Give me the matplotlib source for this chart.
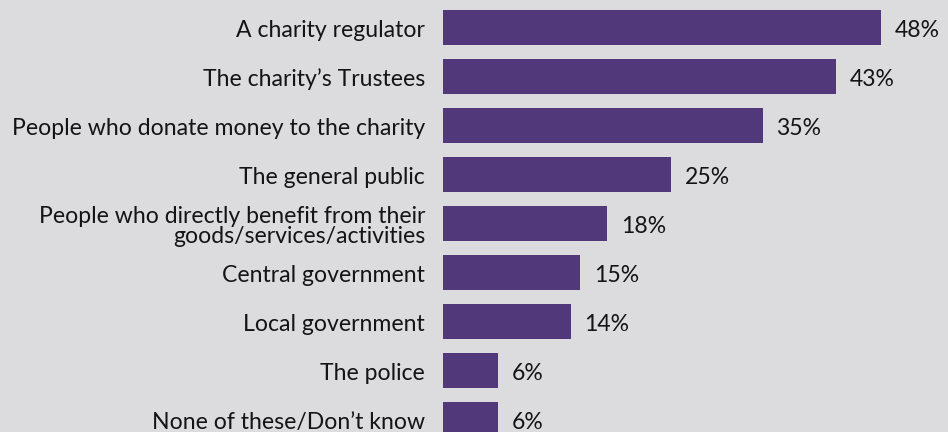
import matplotlib
matplotlib.use("Agg")
import matplotlib.pyplot as plt

categories = [
    "A charity regulator",
    "The charity\u2019s Trustees",
    "People who donate money to the charity",
    "The general public",
    "People who directly benefit from their\ngoods/services/activities",
    "Central government",
    "Local government",
    "The police",
    "None of these/Don\u2019t know",
]
values = [48, 43, 35, 25, 18, 15, 14, 6, 6]
value_labels = ["48%", "43%", "35%", "25%", "18%", "15%", "14%", "6%", "6%"]

BG = "#dcdcde"
BAR = "#51387a"
TXT = "#141414"
FONT = "Lato"
FS = 16.6

fig = plt.figure(figsize=(9.48, 4.32), dpi=100, facecolor=BG)
ax = fig.add_axes([0, 0, 1, 1])
ax.set_facecolor(BG)

pxu = 9.13  # pixels per percent
x0 = 443
pitch = 49.0
y0 = 27.4
ax.set_xlim(-x0 / pxu, (948 - x0) / pxu)
ax.set_ylim((432 - y0) / pitch, -y0 / pitch)

ypos = list(range(len(categories)))
ax.barh(ypos, values, height=34.7 / pitch, color=BAR)

for y, v, lab, cat in zip(ypos, values, value_labels, categories):
    ax.text(v + 1.5, y + 0.2, lab, ha="left", va="baseline", fontsize=FS,
            color=TXT, family=FONT)
    if "\n" in cat:
        ax.text(-18 / pxu, y + 0.06, cat, ha="right", va="center", fontsize=FS,
                color=TXT, family=FONT, linespacing=0.95)
    else:
        ax.text(-18 / pxu, y + 0.19, cat, ha="right", va="baseline", fontsize=FS,
                color=TXT, family=FONT)

ax.axis("off")
fig.savefig("out.png", dpi=100, facecolor=BG)
